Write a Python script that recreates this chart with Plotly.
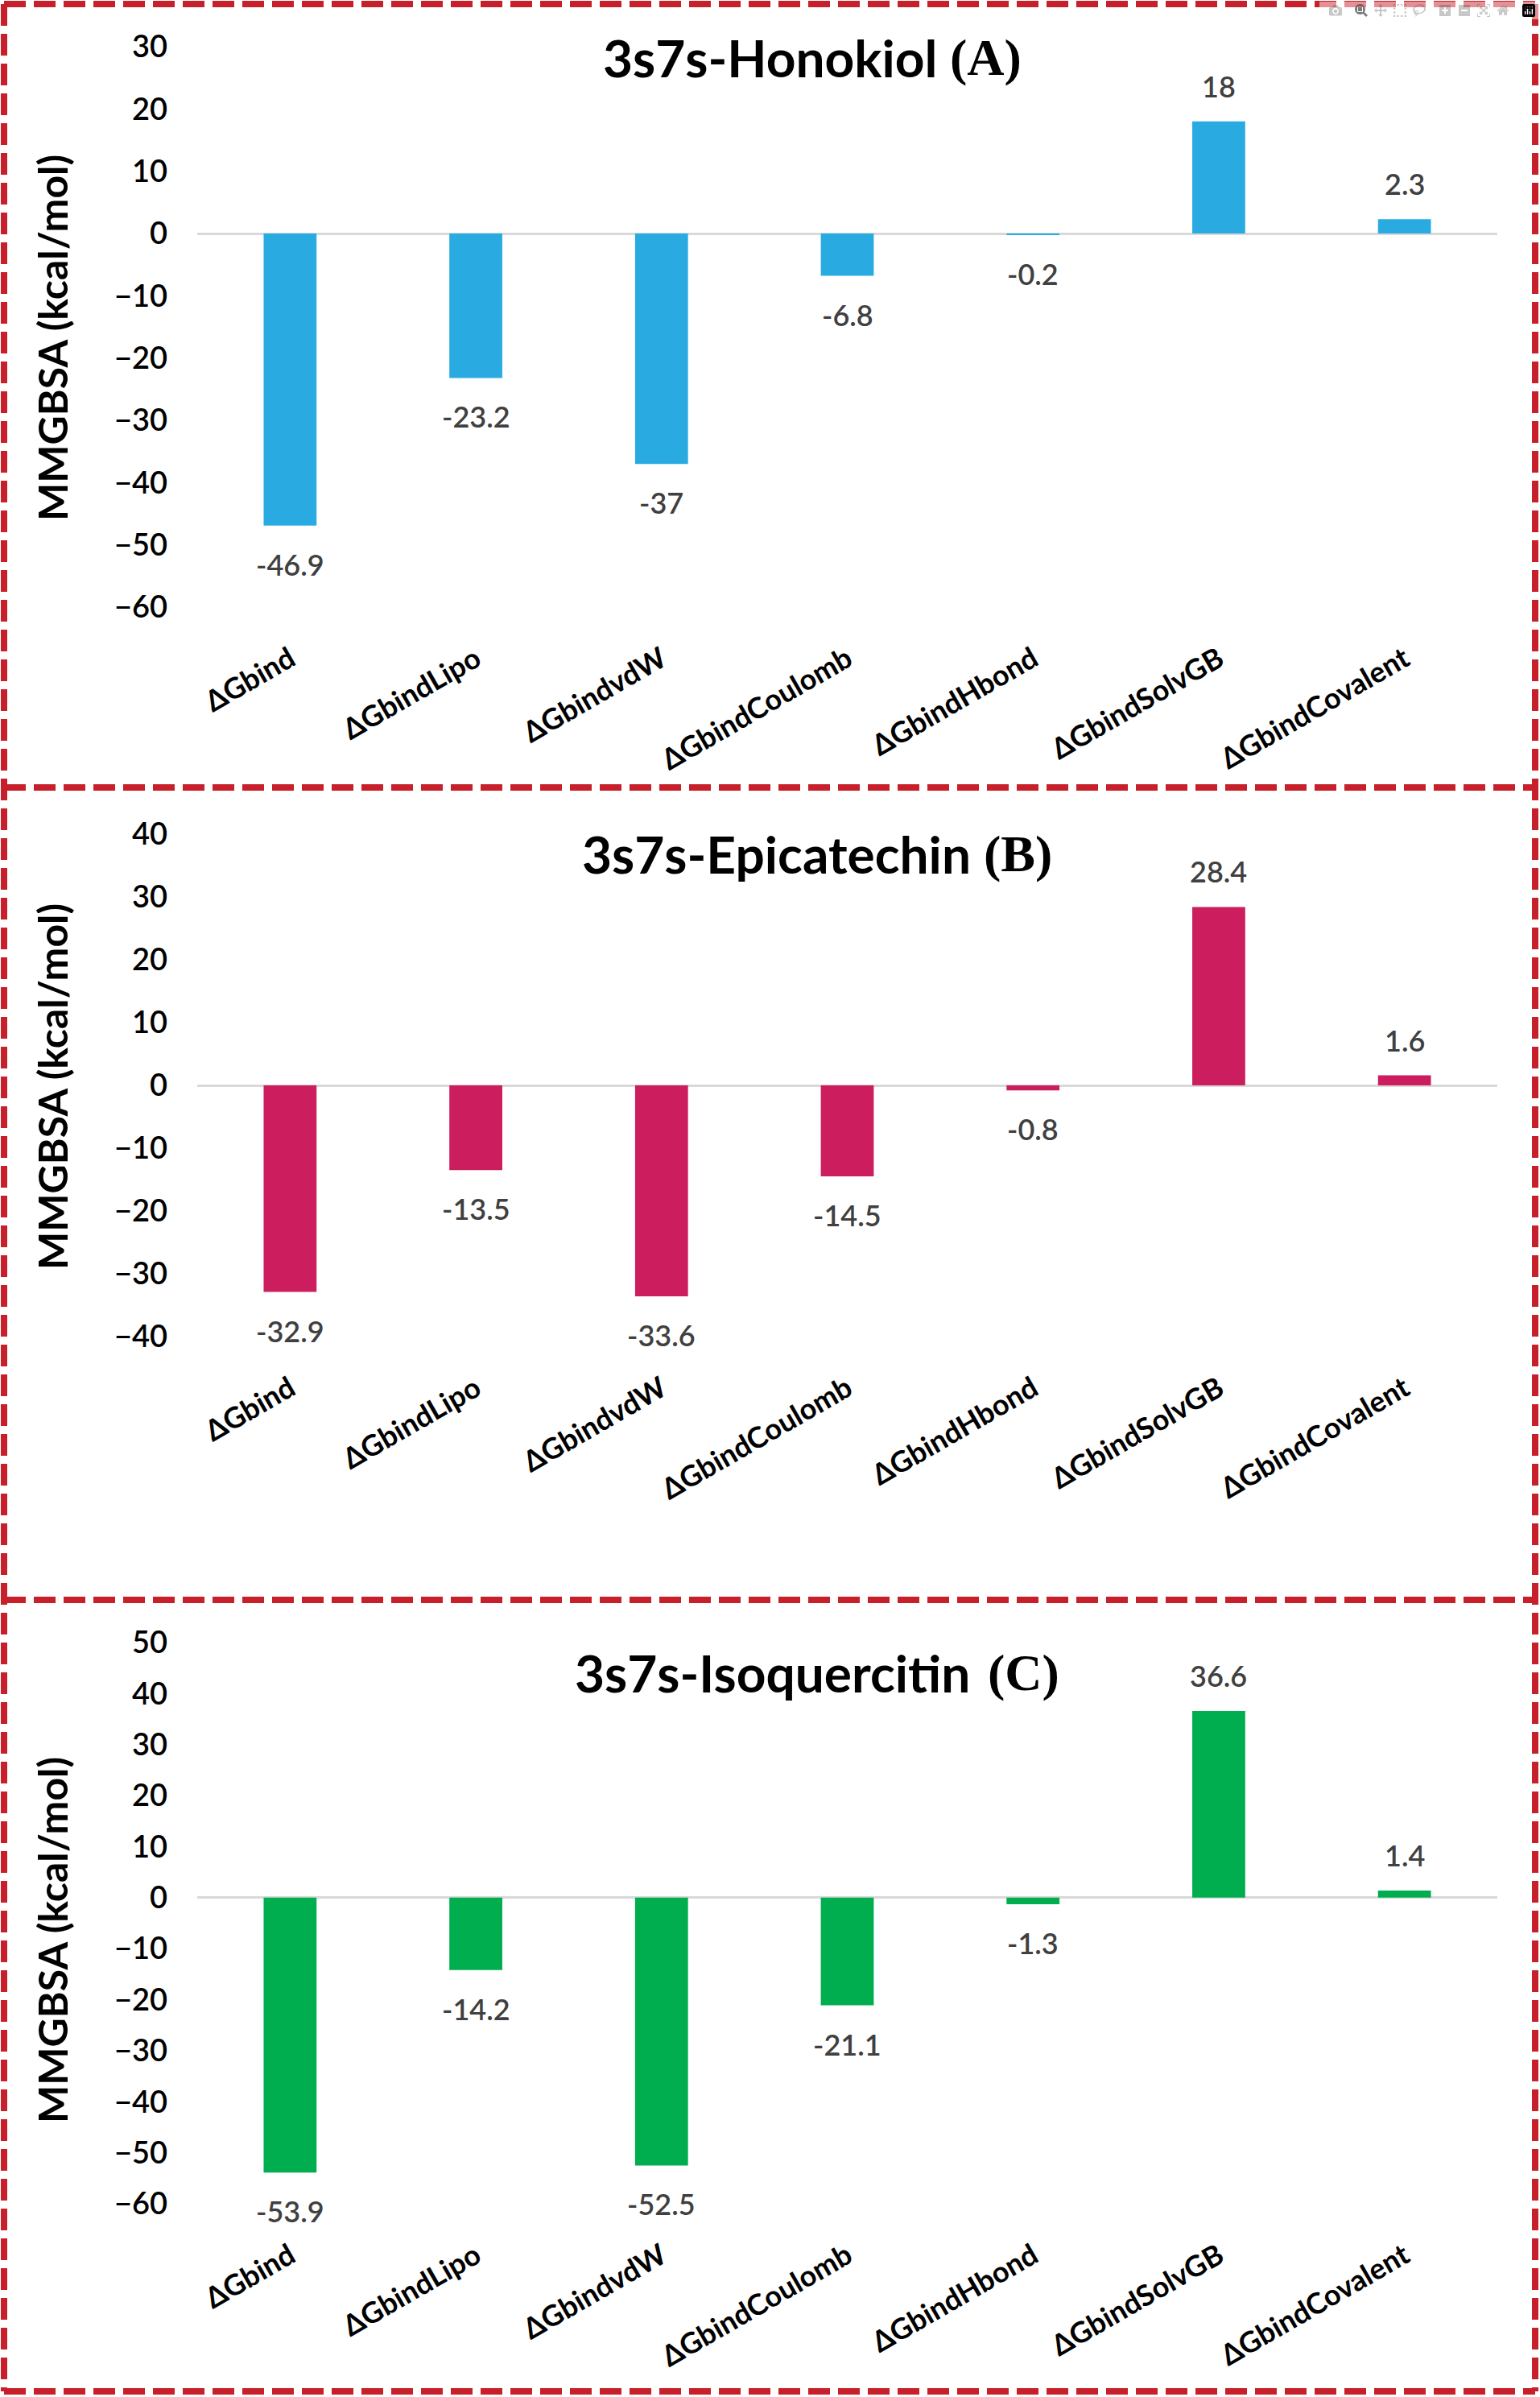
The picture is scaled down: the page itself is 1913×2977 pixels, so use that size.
import plotly.graph_objects as go

W, H = 1913, 2977

categories = ["ΔGbind", "ΔGbindLipo", "ΔGbindvdW", "ΔGbindCoulomb",
              "ΔGbindHbond", "ΔGbindSolvGB", "ΔGbindCovalent"]
honokiol = [-46.9, -23.2, -37, -6.8, -0.2, 18, 2.3]
epicatechin = [-32.9, -13.5, -33.6, -14.5, -0.8, 28.4, 1.6]
isoquercitin = [-53.9, -14.2, -52.5, -21.1, -1.3, 36.6, 1.4]

panel_names = ["3s7s-Honokiol", "3s7s-Epicatechin", "3s7s-Isoquercitin"]
panel_letters = ["(A)", "(B)", "(C)"]
y_ranges = [(-60, 30), (-40, 40), (-60, 50)]
y_title = "MMGBSA (kcal/mol)"
colors = ["#29ABE2", "#CC1D5E", "#00AD4F"]

series = [honokiol, epicatechin, isoquercitin]

# layout geometry (pixels)
plot_x = (245, 1860)
plot_y = [(58, 754), (1036, 1660), (2040, 2737)]
title_y = [72, 1060, 2077]
title_end = [1166, 1208, 1207]
letter_start = [1178, 1220, 1225]
ytitle_y = [420, 1350, 2410]
borders_y = [5, 978, 1987, 2970]
border_x = (5, 1907)
RED = "#C8202A"

def px(x):
    return x / W

def py(y):
    return 1 - y / H

fig = go.Figure()
annotations = []
shapes = []
layout = {}

for i, (vals, col) in enumerate(zip(series, colors)):
    n = i + 1
    xa = "x" if n == 1 else f"x{n}"
    ya = "y" if n == 1 else f"y{n}"
    fig.add_trace(go.Bar(x=categories, y=vals, xaxis=xa, yaxis=ya,
                         marker=dict(color=col, line=dict(width=0)),
                         hoverinfo="x+y"))
    top, bot = plot_y[i]
    layout[f"xaxis{'' if n == 1 else n}"] = dict(
        domain=[px(plot_x[0]), px(plot_x[1])], anchor=ya, automargin=False,
        showline=False, showgrid=False, zeroline=False, ticks="",
        tickangle=-30, ticklabelstandoff=36,
        tickfont=dict(family="Lato", size=36, weight="bold", color="black"))
    layout[f"yaxis{'' if n == 1 else n}"] = dict(
        domain=[py(bot), py(top)], anchor=xa, range=list(y_ranges[i]),
        automargin=False,
        tick0=0, dtick=10, showgrid=False, showline=False, ticks="",
        zeroline=True, zerolinecolor="#D9D9D9", zerolinewidth=3,
        ticklabelstandoff=36,
        tickfont=dict(family="Lato", size=38, weight=600, color="black"))

    for c, v in zip(categories, vals):
        annotations.append(dict(
            x=c, y=v, xref=xa, yref=ya, text=f"{v:g}", showarrow=False,
            yanchor="bottom" if v >= 0 else "top",
            yshift=20 if v >= 0 else -24,
            font=dict(family="Lato", size=36, weight=600, color="#404040")))

    annotations.append(dict(
        x=px(title_end[i]), y=py(title_y[i]), xref="paper", yref="paper",
        text=panel_names[i], showarrow=False, xanchor="right", yanchor="middle",
        font=dict(family="Lato", size=64, weight="bold", color="black")))
    annotations.append(dict(
        x=px(letter_start[i]), y=py(title_y[i]), xref="paper", yref="paper",
        text=panel_letters[i], showarrow=False, xanchor="left", yanchor="middle",
        font=dict(family="Liberation Serif", size=64, weight="bold", color="black")))
    annotations.append(dict(
        x=px(65), y=py(ytitle_y[i]), xref="paper", yref="paper",
        text=y_title, showarrow=False, textangle=-90,
        xanchor="center", yanchor="middle",
        font=dict(family="Lato", size=50, weight="bold", color="black")))

for by in borders_y:
    shapes.append(dict(type="line", xref="paper", yref="paper",
                       x0=px(border_x[0]), x1=px(border_x[1]), y0=py(by), y1=py(by),
                       line=dict(color=RED, width=8, dash="27px,10px")))
for bx in border_x:
    shapes.append(dict(type="line", xref="paper", yref="paper",
                       x0=px(bx), x1=px(bx), y0=py(borders_y[0]), y1=py(borders_y[-1]),
                       line=dict(color=RED, width=8, dash="27px,10px")))

fig.update_layout(
    width=W, height=H, autosize=False,
    margin=dict(l=0, r=0, t=0, b=0, autoexpand=False),
    paper_bgcolor="white", plot_bgcolor="white",
    showlegend=False, bargap=0.715,
    annotations=annotations, shapes=shapes,
    **layout)

fig.write_html("out.html", post_script="document.body.style.margin='0';")
